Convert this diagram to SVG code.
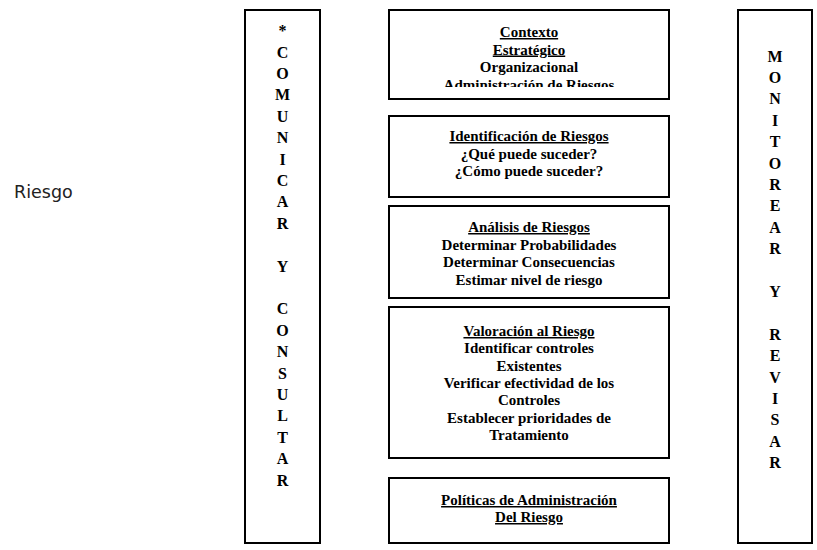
<svg xmlns="http://www.w3.org/2000/svg" width="817" height="550" viewBox="0 0 817 550">
<style>
.box{fill:#fff;stroke:#000;stroke-width:2}
.t{font-family:"Liberation Serif","Times New Roman",serif;font-weight:bold;font-size:15px;fill:#000;text-anchor:middle}
.u{text-decoration:underline}
.v{font-family:"Liberation Serif","Times New Roman",serif;font-weight:bold;font-size:16px;fill:#000;text-anchor:middle}
.s{font-family:"DejaVu Sans","Noto Sans",sans-serif;font-size:17.5px;fill:#222}
</style>
<defs>
<clipPath id="c1"><rect x="389" y="10" width="280" height="77"/></clipPath>
</defs>
<rect width="817" height="550" fill="#fff"/>
<text class="s" x="14" y="198">Riesgo</text>
<g id="comunicar">
<rect class="box" x="245" y="10" width="75" height="533"/>
<text class="v"><tspan x="282.5" y="36">*</tspan><tspan x="282.5" y="57.5">C</tspan><tspan x="282.5" y="78.9">O</tspan><tspan x="282.5" y="100.3">M</tspan><tspan x="282.5" y="121.7">U</tspan><tspan x="282.5" y="143.1">N</tspan><tspan x="282.5" y="164.5">I</tspan><tspan x="282.5" y="185.9">C</tspan><tspan x="282.5" y="207.3">A</tspan><tspan x="282.5" y="228.7">R</tspan><tspan x="282.5" y="271.5">Y</tspan><tspan x="282.5" y="314.3">C</tspan><tspan x="282.5" y="335.7">O</tspan><tspan x="282.5" y="357.1">N</tspan><tspan x="282.5" y="378.5">S</tspan><tspan x="282.5" y="399.9">U</tspan><tspan x="282.5" y="421.3">L</tspan><tspan x="282.5" y="442.7">T</tspan><tspan x="282.5" y="464.1">A</tspan><tspan x="282.5" y="485.5">R</tspan></text>
</g>
<g id="contexto">
<rect class="box" x="389" y="10" width="280" height="89"/>
<g clip-path="url(#c1)">
<text class="t u" x="529" y="37">Contexto</text>
<text class="t u" x="529" y="54.5">Estratégico</text>
<text class="t" x="529" y="72">Organizacional</text>
<text class="t" x="529" y="89.5">Administración de Riesgos</text>
</g>
</g>
<g id="identificacion">
<rect class="box" x="389" y="116" width="280" height="81"/>
<text class="t u" x="529" y="141">Identificación de Riesgos</text>
<text class="t" x="529" y="158.5">¿Qué puede suceder?</text>
<text class="t" x="529" y="176">¿Cómo puede suceder?</text>
</g>
<g id="analisis">
<rect class="box" x="389" y="206" width="280" height="92"/>
<text class="t u" x="529" y="232">Análisis de Riesgos</text>
<text class="t" x="529" y="249.5">Determinar Probabilidades</text>
<text class="t" x="529" y="267">Determinar Consecuencias</text>
<text class="t" x="529" y="284.5">Estimar nivel de riesgo</text>
</g>
<g id="valoracion">
<rect class="box" x="389" y="307" width="280" height="151"/>
<text class="t u" x="529" y="336">Valoración al Riesgo</text>
<text class="t" x="529" y="353.3">Identificar controles</text>
<text class="t" x="529" y="370.6">Existentes</text>
<text class="t" x="529" y="387.9">Verificar efectividad de los</text>
<text class="t" x="529" y="405.2">Controles</text>
<text class="t" x="529" y="422.5">Establecer prioridades de</text>
<text class="t" x="529" y="439.8">Tratamiento</text>
</g>
<g id="politicas">
<rect class="box" x="389" y="478" width="280" height="65"/>
<text class="t u" x="529" y="505">Políticas de Administración</text>
<text class="t u" x="529" y="522">Del Riesgo</text>
</g>
<g id="monitorear">
<rect class="box" x="738" y="10" width="74" height="533"/>
<text class="v"><tspan x="775" y="61.5">M</tspan><tspan x="775" y="82.9">O</tspan><tspan x="775" y="104.3">N</tspan><tspan x="775" y="125.7">I</tspan><tspan x="775" y="147.1">T</tspan><tspan x="775" y="168.5">O</tspan><tspan x="775" y="189.9">R</tspan><tspan x="775" y="211.3">E</tspan><tspan x="775" y="232.7">A</tspan><tspan x="775" y="254.1">R</tspan><tspan x="775" y="296.9">Y</tspan><tspan x="775" y="339.7">R</tspan><tspan x="775" y="361.1">E</tspan><tspan x="775" y="382.5">V</tspan><tspan x="775" y="403.9">I</tspan><tspan x="775" y="425.3">S</tspan><tspan x="775" y="446.7">A</tspan><tspan x="775" y="468.1">R</tspan></text>
</g>
<g id="connectors"></g>
</svg>
